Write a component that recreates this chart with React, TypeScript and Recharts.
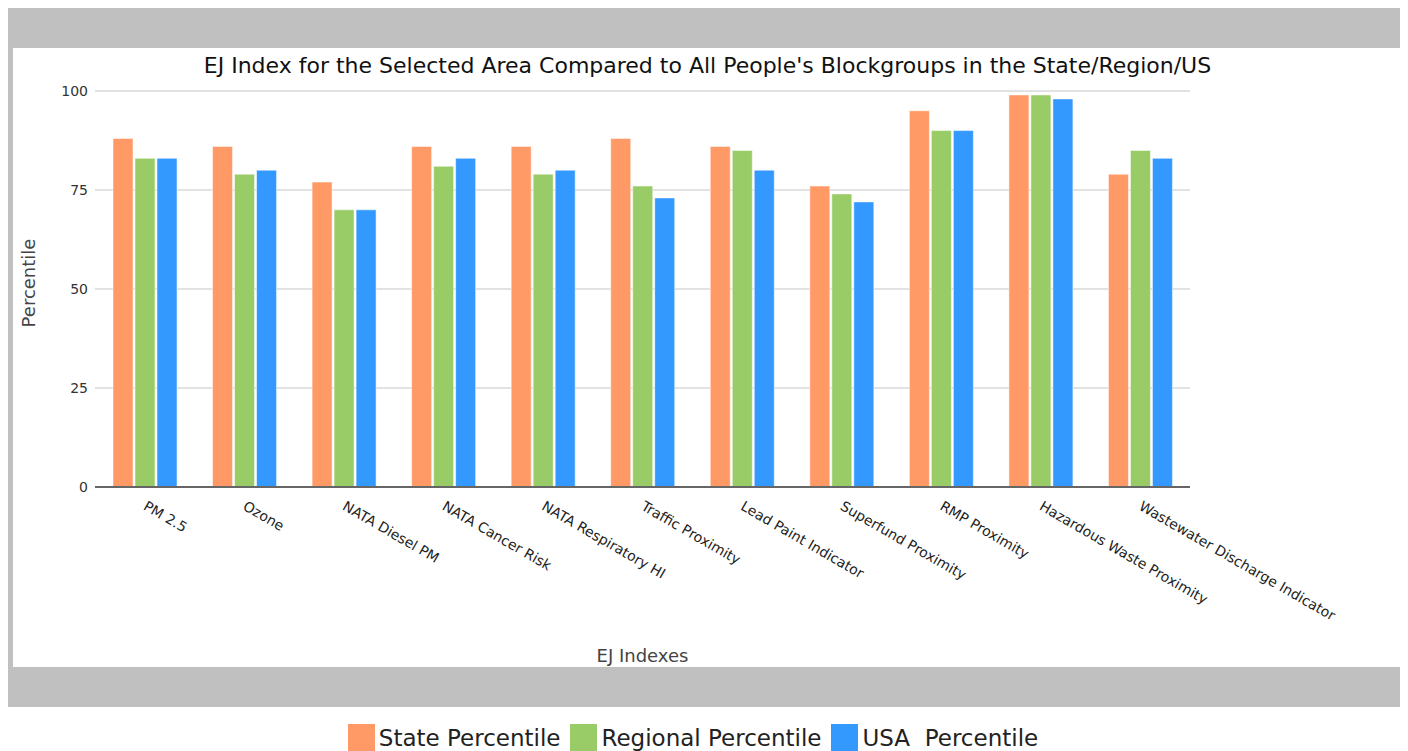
import React from "react";
import { BarChart, Bar, XAxis, YAxis, CartesianGrid } from "recharts";

const categories = [
  "PM 2.5",
  "Ozone",
  "NATA Diesel PM",
  "NATA Cancer Risk",
  "NATA Respiratory HI",
  "Traffic Proximity",
  "Lead Paint Indicator",
  "Superfund Proximity",
  "RMP Proximity",
  "Hazardous Waste Proximity",
  "Wastewater Discharge Indicator",
];
const statePercentile = [88, 86, 77, 86, 86, 88, 86, 76, 95, 99, 79];
const regionalPercentile = [83, 79, 70, 81, 79, 76, 85, 74, 90, 99, 85];
const usaPercentile = [83, 80, 70, 83, 80, 73, 80, 72, 90, 98, 83];
const yTicks = [0, 25, 50, 75, 100];

const series = [
  { key: "state", name: "State Percentile", color: "#ff9966", values: statePercentile },
  { key: "regional", name: "Regional Percentile", color: "#99cc66", values: regionalPercentile },
  { key: "usa", name: "USA  Percentile", color: "#3399ff", values: usaPercentile },
];

const data = categories.map((c, i) => {
  const row: any = { name: c };
  series.forEach((s) => (row[s.key] = s.values[i]));
  return row;
});

const FONT = "'DejaVu Sans', Verdana, sans-serif";

if (typeof document !== "undefined") {
  document.documentElement.style.overflow = "hidden";
}

const XTick = (props: any) => {
  const { x, y, payload } = props;
  return (
    <g transform={`translate(${x + 3},${y + 5})`}>
      <text
        transform="rotate(30)"
        textAnchor="start"
        dy="0.75em"
        fontSize={14}
        fill="#222"
        fontFamily={FONT}
      >
        {payload.value}
      </text>
    </g>
  );
};

export default function App() {
  return (
    <div style={{ width: 1400, fontFamily: FONT }}>
      <div
        style={{
          width: 1400,
          height: 699,
          background: "#c0c0c0",
          position: "relative",
        }}
      >
        <div
          style={{
            position: "absolute",
            left: 5,
            top: 40,
            width: 1389,
            height: 619,
            background: "#fff",
          }}
        >
          <div
            style={{
              position: "absolute",
              left: 0,
              top: 4,
              width: 1389,
              textAlign: "center",
              fontSize: 22,
              color: "#111",
              lineHeight: "28px",
            }}
          >
            EJ Index for the Selected Area Compared to All People's Blockgroups in the State/Region/US
          </div>
          <BarChart
            width={1389}
            height={619}
            data={data}
            margin={{ top: 43, right: 212, left: 22, bottom: 5 }}
            barGap={2}
            barSize={20}
          >
            <CartesianGrid vertical={false} stroke="#d9d9d9" strokeWidth={1.5} />
            <XAxis
              dataKey="name"
              interval={0}
              height={175}
              tickLine={false}
              axisLine={{ stroke: "#666", strokeWidth: 2 }}
              tick={<XTick />}
              label={{
                value: "EJ Indexes",
                position: "insideBottom",
                offset: 0,
                fontSize: 18,
                fill: "#444",
                fontFamily: FONT,
              }}
            />
            <YAxis
              width={60}
              domain={[0, 100]}
              ticks={yTicks}
              tickLine={false}
              axisLine={false}
              tickMargin={1}
              tick={{ fontSize: 14, fill: "#333", fontFamily: FONT }}
              label={{
                content: () => (
                  <text
                    x={15}
                    y={235}
                    transform="rotate(-90, 15, 235)"
                    textAnchor="middle"
                    dominantBaseline="central"
                    fontSize={18}
                    fill="#444"
                    fontFamily={FONT}
                  >
                    Percentile
                  </text>
                ),
              }}
            />
            {series.map((s) => (
              <Bar
                key={s.key}
                dataKey={s.key}
                name={s.name}
                fill={s.color}
                stroke="#ffffff"
                strokeOpacity={0.5}
                strokeWidth={1}
                isAnimationActive={false}
              />
            ))}
          </BarChart>
        </div>
      </div>
      <div
        style={{
          display: "flex",
          justifyContent: "center",
          alignItems: "center",
          marginTop: 17,
          height: 27,
          paddingRight: 20,
        }}
      >
        {series.map((s) => (
          <div key={s.key} style={{ display: "flex", alignItems: "center", marginRight: 10 }}>
            <div style={{ width: 27, height: 27, background: s.color, marginRight: 4 }} />
            <span style={{ fontSize: 23, color: "#222", whiteSpace: "pre" }}>{s.name}</span>
          </div>
        ))}
      </div>
    </div>
  );
}
